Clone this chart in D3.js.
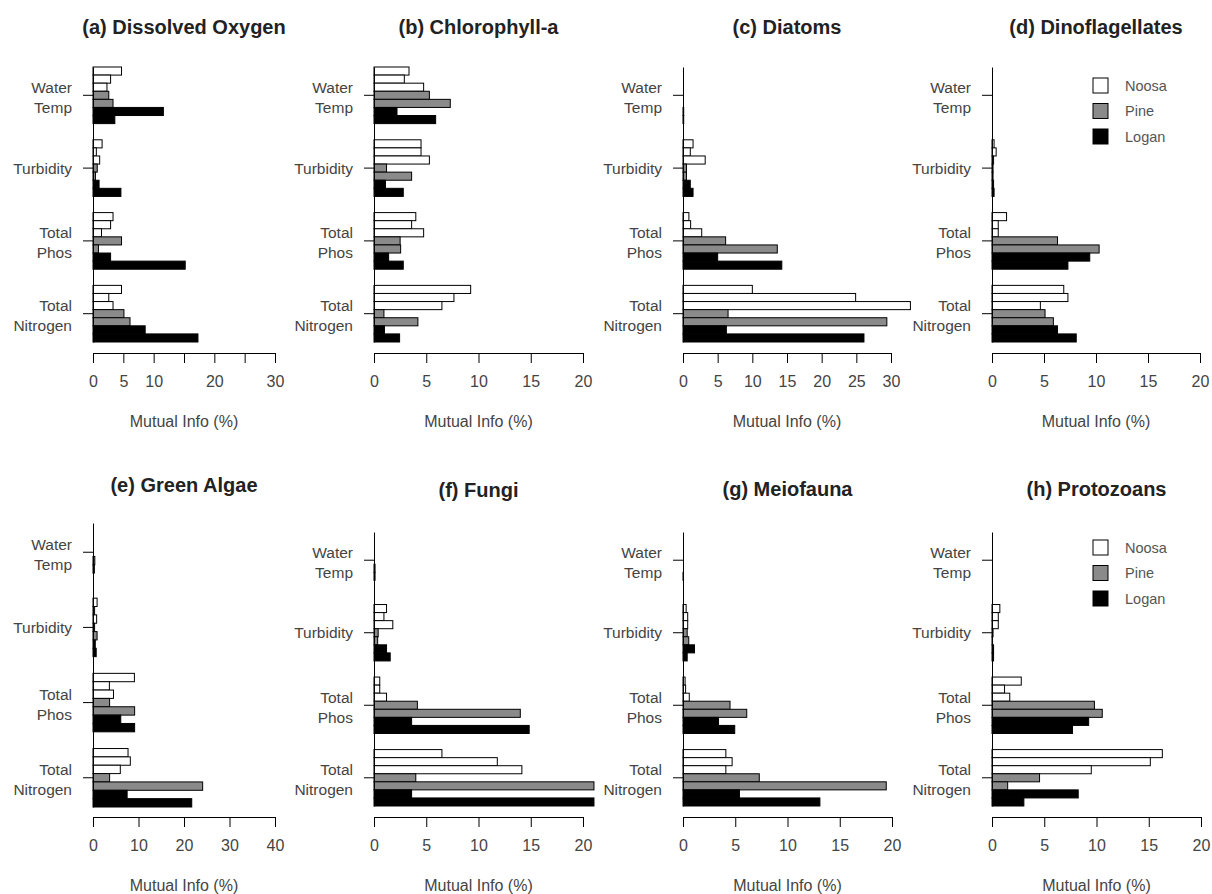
<!DOCTYPE html>
<html>
<head>
<meta charset="utf-8">
<script src="https://cdn.jsdelivr.net/npm/d3@7"></script>
<style>
  body { margin: 0; background: #fff; }
  svg { display: block; font-family: "Liberation Sans", Arial, sans-serif; }
</style>
</head>
<body>
<div id="chart"></div>
<script>
// predictors (groups, top to bottom)
const variables = [["Water", "Temp"], ["Turbidity"], ["Total", "Phos"], ["Total", "Nitrogen"]];
// bars inside each group, top to bottom
const sites = ["Noosa 1", "Noosa 2", "Noosa 3", "Pine 1", "Pine 2", "Logan 1", "Logan 2"];
const siteRiver = ["Noosa", "Noosa", "Noosa", "Pine", "Pine", "Logan", "Logan"];
const rivers = ["Noosa", "Pine", "Logan"];

const titles = [
  "(a) Dissolved Oxygen", "(b) Chlorophyll-a", "(c) Diatoms", "(d) Dinoflagellates",
  "(e) Green Algae", "(f) Fungi", "(g) Meiofauna", "(h) Protozoans",
];

// mutual information (%) — one row per variable, one value per site
const dissolvedOxygen = [
  [4.7, 2.9, 2.3, 2.6, 3.3, 11.6, 3.6],
  [1.5, 0.55, 1.1, 0.7, 0.4, 1.0, 4.6],
  [3.3, 2.9, 1.4, 4.7, 0.9, 2.9, 15.2],
  [4.7, 2.6, 3.3, 5.1, 6.1, 8.6, 17.3],
];
const chlorophyll = [
  [3.35, 2.9, 4.75, 5.3, 7.3, 2.2, 5.9],
  [4.5, 4.5, 5.3, 1.2, 3.6, 1.1, 2.8],
  [4.0, 3.6, 4.75, 2.5, 2.55, 1.4, 2.8],
  [9.25, 7.65, 6.5, 0.95, 4.2, 1.0, 2.45],
];
const diatoms = [
  [0, 0, 0, 0, 0, 0.1, 0.1],
  [1.45, 1.05, 3.2, 0.5, 0.5, 1.05, 1.45],
  [0.85, 1.1, 2.7, 6.15, 13.6, 5.0, 14.25],
  [10.0, 24.9, 32.8, 6.5, 29.4, 6.25, 26.1],
];
const dinoflagellates = [
  [0, 0, 0, 0, 0, 0, 0],
  [0.2, 0.4, 0.15, 0.1, 0.1, 0.15, 0.2],
  [1.4, 0.6, 0.6, 6.3, 10.3, 9.4, 7.3],
  [6.9, 7.3, 4.65, 5.1, 5.9, 6.3, 8.1],
];
const greenAlgae = [
  [0, 0, 0, 0, 0.4, 0.3, 0],
  [0.9, 0.35, 0.8, 0.35, 0.9, 0.5, 0.7],
  [9.1, 3.6, 4.5, 3.65, 9.15, 6.1, 9.15],
  [7.7, 8.2, 6.0, 3.65, 24.1, 7.5, 21.7],
];
const fungi = [
  [0, 0, 0, 0, 0.1, 0.1, 0],
  [1.2, 0.95, 1.8, 0.4, 0.35, 1.2, 1.55],
  [0.55, 0.55, 1.2, 4.15, 14.0, 3.6, 14.85],
  [6.5, 11.8, 14.15, 4.0, 21.05, 3.6, 21.05],
];
const meiofauna = [
  [0, 0, 0, 0, 0, 0.05, 0],
  [0.3, 0.45, 0.45, 0.4, 0.55, 1.1, 0.4],
  [0.2, 0.25, 0.6, 4.5, 6.1, 3.4, 4.95],
  [4.1, 4.7, 4.1, 7.3, 19.45, 5.4, 13.1],
];
const protozoans = [
  [0, 0, 0, 0, 0, 0, 0],
  [0.75, 0.6, 0.6, 0.1, 0.05, 0.15, 0.15],
  [2.8, 1.2, 1.7, 9.8, 10.55, 9.25, 7.7],
  [16.3, 15.15, 9.5, 4.55, 1.5, 8.25, 3.05],
];
const panelValues = [dissolvedOxygen, chlorophyll, diatoms, dinoflagellates,
  greenAlgae, fungi, meiofauna, protozoans];

// x axis ticks and the labels R kept (blank = label dropped)
const ticksA = [0, 5, 10, 15, 20, 25, 30];
const tickLabelsA = ["0", "5", "10", "", "20", "", "30"];
const ticks20 = [0, 5, 10, 15, 20];
const tickLabels20 = ["0", "5", "10", "15", "20"];
const ticksC = [0, 5, 10, 15, 20, 25, 30];
const tickLabelsC = ["0", "5", "10", "15", "20", "25", "30"];
const ticksE = [0, 10, 20, 30, 40];
const tickLabelsE = ["0", "10", "20", "30", "40"];
const panelTicks = [ticksA, ticks20, ticksC, ticks20, ticksE, ticks20, ticks20, ticks20];
const panelTickLabels = [tickLabelsA, tickLabels20, tickLabelsC, tickLabels20,
  tickLabelsE, tickLabels20, tickLabels20, tickLabels20];

// layout of each panel (pixel positions)
const layout = [
  { x0: 93, w: 182, y0: 67, y1: 342, axisY: 353, titleY: 34 },
  { x0: 374, w: 209, y0: 67, y1: 342, axisY: 353, titleY: 34 },
  { x0: 683, w: 208, y0: 67, y1: 342, axisY: 353, titleY: 34 },
  { x0: 992, w: 208, y0: 67, y1: 342, axisY: 353, titleY: 34, legendY: 78 },
  { x0: 93, w: 182, y0: 523, y1: 807, axisY: 817, titleY: 492 },
  { x0: 374, w: 209, y0: 532, y1: 806, axisY: 817, titleY: 497 },
  { x0: 683, w: 209, y0: 532, y1: 806, axisY: 817, titleY: 496 },
  { x0: 992, w: 209, y0: 532, y1: 806, axisY: 817, titleY: 496, legendY: 540 },
];

const fill = d3.scaleOrdinal().domain(rivers).range(["#ffffff", "#8a8a8a", "#000000"]);
const textColor = "#444";

const width = 1212, height = 894;
const svg = d3.select("#chart").append("svg")
  .attr("width", width).attr("height", height)
  .attr("viewBox", `0 0 ${width} ${height}`);

panelValues.forEach((values, i) => {
  const L = layout[i];
  const tickVals = panelTicks[i];
  const tickLabs = panelTickLabels[i];
  const g = svg.append("g");

  const x = d3.scaleLinear()
    .domain([0, tickVals[tickVals.length - 1]])
    .range([L.x0, L.x0 + L.w]);
  const y = d3.scaleBand()
    .domain(d3.range(variables.length))
    .range([L.y0, L.y1])
    .paddingInner(2 / 9)
    .paddingOuter(0);
  const ySite = d3.scaleBand()
    .domain(sites)
    .range([0, y.bandwidth()]);

  // bars
  const groups = g.selectAll("g.grp")
    .data(values)
    .join("g")
    .attr("class", "grp")
    .attr("transform", (d, k) => `translate(0,${y(k)})`);
  groups.selectAll("rect")
    .data((d) => d.map((v, j) => ({ v, site: sites[j], river: siteRiver[j] })))
    .join("rect")
    .attr("x", x(0))
    .attr("y", (d) => ySite(d.site))
    .attr("width", (d) => x(d.v) - x(0))
    .attr("height", ySite.bandwidth())
    .attr("fill", (d) => fill(d.river))
    .attr("stroke", "#000")
    .attr("stroke-width", 1);

  // y axis
  const yAxis = g.append("g")
    .attr("transform", `translate(${L.x0},0)`)
    .call(d3.axisLeft(y).tickSize(10).tickSizeOuter(0).tickFormat(""));
  yAxis.select(".domain").attr("stroke", "#000");
  yAxis.selectAll(".tick line").attr("stroke", "#000");

  variables.forEach((lines, k) => {
    const cy = y(k) + y.bandwidth() / 2;
    const offs = lines.length === 1 ? [0] : [-8, 12];
    lines.forEach((t, n) => {
      g.append("text")
        .attr("x", L.x0 - 21)
        .attr("y", cy + offs[n] + 5.6)
        .attr("text-anchor", "end")
        .attr("font-size", 15.5)
        .attr("fill", textColor)
        .text(t);
    });
  });

  // x axis
  const xAxis = g.append("g")
    .attr("transform", `translate(0,${L.axisY})`)
    .call(d3.axisBottom(x).tickValues(tickVals).tickSize(10).tickSizeOuter(0)
      .tickPadding(13)
      .tickFormat((d, n) => tickLabs[n]));
  xAxis.select(".domain").attr("stroke", "#000");
  xAxis.selectAll(".tick line").attr("stroke", "#000");
  xAxis.selectAll(".tick text")
    .attr("font-size", 16)
    .attr("font-family", "Liberation Sans, Arial, sans-serif")
    .attr("fill", textColor);

  g.append("text")
    .attr("x", L.x0 + L.w / 2)
    .attr("y", L.axisY + 74)
    .attr("text-anchor", "middle")
    .attr("font-size", 16)
    .attr("fill", textColor)
    .text("Mutual Info (%)");

  // title
  g.append("text")
    .attr("x", L.x0 + L.w / 2)
    .attr("y", L.titleY)
    .attr("text-anchor", "middle")
    .attr("font-size", 20)
    .attr("font-weight", "bold")
    .attr("fill", "#222")
    .text(titles[i]);

  // legend
  if (L.legendY != null) {
    const leg = g.selectAll("g.leg")
      .data(rivers)
      .join("g")
      .attr("class", "leg")
      .attr("transform", (d, n) => `translate(1093,${L.legendY + n * 25.5})`);
    leg.append("rect")
      .attr("width", 15).attr("height", 15)
      .attr("fill", (d) => fill(d))
      .attr("stroke", "#000");
    leg.append("text")
      .attr("x", 32).attr("y", 12.5)
      .attr("font-size", 14.5)
      .attr("fill", "#555")
      .text((d) => d);
  }
});
</script>
</body>
</html>
